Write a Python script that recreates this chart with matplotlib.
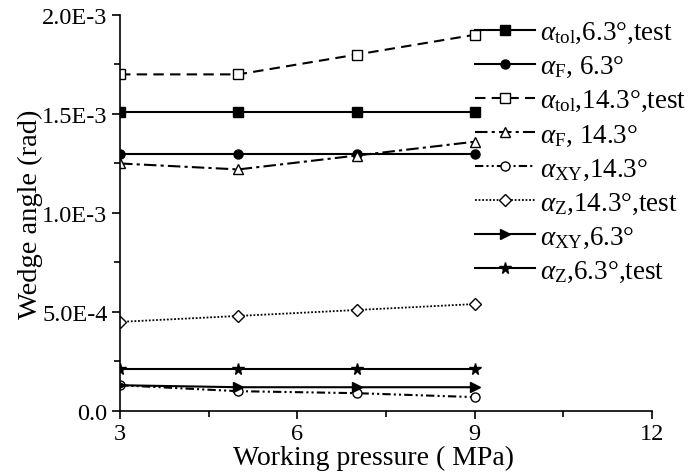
import matplotlib
matplotlib.use("Agg")
import matplotlib.pyplot as plt
from matplotlib.ticker import FixedLocator, MultipleLocator

plt.rcParams['font.family'] = ['Liberation Serif', 'DejaVu Serif']
plt.rcParams['mathtext.fontset'] = 'custom'
plt.rcParams['mathtext.rm'] = 'Liberation Serif'
plt.rcParams['mathtext.it'] = 'Liberation Serif:italic'

pressure = [3, 5, 7, 9]
tol_63 = [1.51e-3, 1.51e-3, 1.51e-3, 1.51e-3]
F_63 = [1.30e-3, 1.30e-3, 1.30e-3, 1.30e-3]
tol_143 = [1.70e-3, 1.70e-3, 1.80e-3, 1.90e-3]
F_143 = [1.25e-3, 1.22e-3, 1.29e-3, 1.36e-3]
XY_143 = [0.13e-3, 0.10e-3, 0.09e-3, 0.07e-3]
Z_143 = [0.45e-3, 0.48e-3, 0.51e-3, 0.54e-3]
XY_63 = [0.13e-3, 0.12e-3, 0.12e-3, 0.12e-3]
Z_63 = [0.21e-3, 0.21e-3, 0.21e-3, 0.21e-3]

labels = [r'$\alpha_{\rm tol}$,6.3°,test', r'$\alpha_{\rm F}$, 6.3°',
          r'$\alpha_{\rm tol}$,14.3°,test', r'$\alpha_{\rm F}$, 14.3°',
          r'$\alpha_{\rm XY}$,14.3°', r'$\alpha_{\rm Z}$,14.3°,test',
          r'$\alpha_{\rm XY}$,6.3°', r'$\alpha_{\rm Z}$,6.3°,test']
yticks = [0.0, 5e-4, 1e-3, 1.5e-3, 2e-3]
ytick_labels = ['0.0', '5.0E-4', '1.0E-3', '1.5E-3', '2.0E-3']
xticks = [3, 6, 9, 12]

fig = plt.figure(figsize=(6.91, 4.77), dpi=100)
ax = fig.add_axes([0.1737, 0.1363, 0.77, 0.8302])

lw = 1.5
ms = 6.5
ax.plot(pressure, tol_63, '-', color='black', lw=lw, marker='s', ms=ms, mfc='black', label=labels[0])
ax.plot(pressure, F_63, '-', color='black', lw=lw, marker='o', ms=ms, mfc='black', label=labels[1])
ax.plot(pressure, tol_143, '--', color='black', lw=lw, marker='s', ms=ms, mfc='white', label=labels[2], dashes=(5, 3))
ax.plot(pressure, F_143, '-.', color='black', lw=lw, marker='^', ms=ms + 0.5, mfc='white', label=labels[3], dashes=(6, 2, 1.5, 2))
ax.plot(pressure, XY_143, color='black', lw=lw, marker='o', ms=ms, mfc='white', label=labels[4], dashes=(4, 1.5, 1, 1.5, 1, 1.5))
ax.plot(pressure, Z_143, color='black', lw=1.3, marker='D', ms=ms - 0.5, mfc='white', label=labels[5], dashes=(1, 1))
ax.plot(pressure, XY_63, '-', color='black', lw=lw, marker='>', ms=ms + 1, mfc='black', label=labels[6])
ax.plot(pressure, Z_63, '-', color='black', lw=lw, marker='*', ms=ms + 2, mfc='black', label=labels[7])

ax.set_xlim(3, 12)
ax.set_ylim(0, 2e-3)
ax.xaxis.set_major_locator(FixedLocator(xticks))
ax.xaxis.set_minor_locator(MultipleLocator(1.5))
ax.set_yticks(yticks)
ax.set_yticklabels(ytick_labels)
ax.yaxis.set_minor_locator(MultipleLocator(2.5e-4))
for s in ['top', 'right']:
    ax.spines[s].set_visible(False)
for s in ['left', 'bottom']:
    ax.spines[s].set_linewidth(1.2)
ax.tick_params(axis='both', which='major', direction='out', length=6, width=1.2, labelsize=17.5, pad=3)
ax.tick_params(axis='both', which='minor', direction='out', length=4, width=1.2)

ax.set_xlabel('Working pressure ( MPa)', fontsize=20, labelpad=0)
ax.xaxis.set_label_coords(0.477, -0.086)
ax.set_ylabel('Wedge angle (rad)', fontsize=20.5, labelpad=0)
ax.yaxis.set_label_coords(-0.145, 0.5)

leg = fig.legend(loc='upper left', bbox_to_anchor=(0.688, 0.956), frameon=False,
                 fontsize=19.5, handlelength=2.2, labelspacing=0.33, handletextpad=0.2,
                 borderpad=0, borderaxespad=0)

fig.savefig('out.png', dpi=100)
